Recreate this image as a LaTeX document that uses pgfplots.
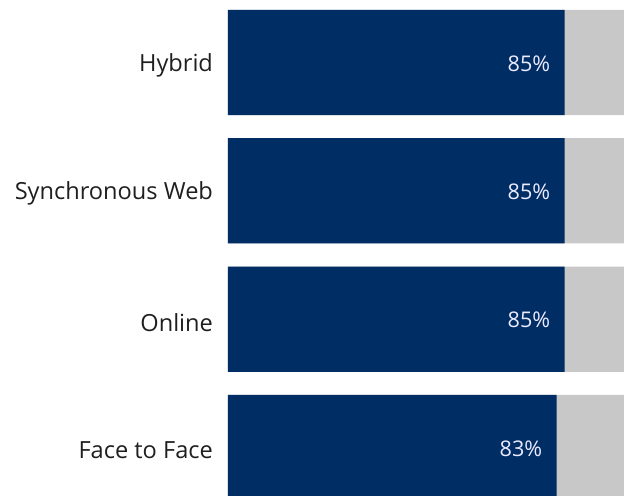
\documentclass[border=0pt]{standalone}
\usepackage{pgfplots}
\pgfplotsset{compat=1.18}
\usepackage{fontspec}
\setmainfont{Open Sans}
\definecolor{navy}{RGB}{0,45,100}
\definecolor{lgrey}{RGB}{200,200,200}
\begin{document}
\begin{tikzpicture}
\path[use as bounding box] (0,0) rectangle (314.5pt,247.5pt);
\begin{axis}[
  at={(114pt,0pt)}, anchor=south west,
  scale only axis, width=198pt, height=247.5pt,
  xbar, bar width=0.82, bar shift=0pt,
  xmin=0, xmax=100,
  ymin=-0.370, ymax=3.487,
  clip=true,
  ytick={0,1,2,3},
  yticklabels={Face to Face, Online, Synchronous Web, Hybrid},
  y tick label style={font=\fontsize{11.8pt}{14pt}\selectfont, text=black!88, anchor=east, xshift=-4pt, yshift=-1.5pt},
  hide x axis,
  axis line style={draw=none},
  major tick length=0pt,
]
\addplot[fill=lgrey, draw=none] coordinates {(100,0) (100,1) (100,2) (100,3)};
\addplot[fill=navy, draw=none,
  nodes near coords={\pgfmathprintnumber[assume math mode=true]{\pgfplotspointmeta}\%},
  point meta=x,
  every node near coord/.append style={font=\fontsize{10.8pt}{12pt}\selectfont, text=white!92!blue, anchor=east, xshift=-3.7pt, yshift=-0.5pt}]
  coordinates {(83,0) (85,1) (85,2) (85,3)};
\end{axis}
\end{tikzpicture}
\end{document}
